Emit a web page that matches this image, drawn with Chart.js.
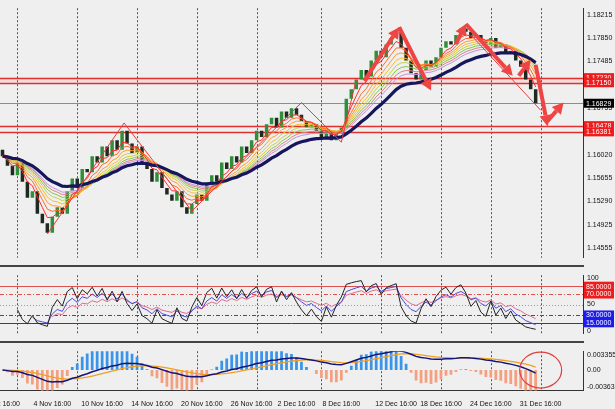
<!DOCTYPE html>
<html><head><meta charset="utf-8">
<script src="https://cdn.jsdelivr.net/npm/chart.js@4"></script>
<style>
body{margin:0;background:#efefef;width:615px;height:409px;overflow:hidden;position:relative}
canvas{position:absolute;left:0}
.sep{position:absolute;left:0;width:584px;height:2px;background:#444}
</style></head><body>
<canvas id="c1" width="615" height="266" style="top:0"></canvas>
<div class="sep" style="top:265px"></div>
<canvas id="c2" width="615" height="75" style="top:267px"></canvas>
<div class="sep" style="top:341px"></div>
<canvas id="c3" width="615" height="66" style="top:343px"></canvas>
<script>
// ---------- data ----------
const closes = [1.1600,1.1585,1.1570,1.1590,1.1560,1.1535,1.1545,1.1510,1.1495,1.1480,
1.1505,1.1520,1.1510,1.1545,1.1565,1.1550,1.1580,1.1575,1.1600,1.1590,1.1615,1.1600,1.1625,1.1610,1.1640,
1.1620,1.1605,1.1615,1.1590,1.1580,1.1560,1.1575,1.1550,1.1540,1.1530,1.1545,1.1520,1.1510,1.1525,
1.1540,1.1530,1.1555,1.1570,1.1560,1.1590,1.1580,1.1600,1.1590,1.1615,1.1605,1.1625,1.1640,1.1630,1.1650,1.1660,1.1645,1.1670,1.1660,1.1675,1.1665,1.1655,
1.1645,1.1650,1.1640,1.1630,1.1640,1.1625,1.1635,1.1645,
1.1690,1.1705,1.1720,
1.1735,1.1725,1.1750,1.1765,1.1755,1.1775,1.1785,1.1795,
1.1770,1.1750,1.1730,1.1720,1.1735,
1.1750,1.1740,1.1755,1.1770,
1.1780,1.1775,1.1790,1.1800,1.1795,
1.1785,1.1790,1.1780,1.1775,1.1785,1.1770,1.1775,
1.1760,1.1765,1.1750,1.1740,1.1720,1.1705,1.1683];
const futureSlots = 9;
const xLabelIdx = [1,10,20,30,40,50,59,68,79,88,98,108];
const xLabelTxt = ['ct 16:00','4 Nov 16:00','10 Nov 16:00','14 Nov 16:00','20 Nov 16:00','26 Nov 16:00','2 Dec 16:00','8 Dec 16:00','12 Dec 16:00','18 Dec 16:00','24 Dec 16:00','31 Dec 16:00'];
const gridIdx = [3,15,27,39,51,64,76,88,98,108];
const priceTicks = [1.18215,1.17850,1.17485,1.16755,1.16020,1.15655,1.15290,1.14925,1.14555];
const redLevels = [1.17230,1.17150,1.16478,1.16381];
const currentPrice = 1.16829;
const rsiTicks = [100,50,0];
const macdTicks = [0.0033551,0,-0.003636];
const macdTickTxt = ['0.0033551','0.00','-0.003636'];
const ribbonPeriods = [4,6,8,10,12,14,16,18];
const ribbonColors = ['#ff2a2a','#ff6a2a','#ff9a30','#f0c030','#c8d040','#80c850','#e08080','#c090e0'];
const navyPeriod = 24;
const rsiPeriods = [3,6,10];
const rsiColors = ['#222','#4a4ad8','#e06a8a'];
const zigzag = [[9,1.1478],[24.4,1.1652],[38,1.1514],[60,1.1684],[68,1.1622],[71,1.1720]];
const thinLine = [[94,1.1790],[108,1.1672]];
const arrows = [[72.6,1.1718,79.6,1.1802],[79.6,1.1802,86,1.1703],[91,1.1776,93,1.1807],[93,1.1807,102.4,1.1726],[103.6,1.1726,106,1.1751],[107,1.1743,109.4,1.1647],[109.4,1.1655,112.6,1.1684]];

// ---------- derived ----------
const N = closes.length + futureSlots;
const labels = Array.from({length:N},(_, i)=>i);
const pad = a => a.concat(Array(futureSlots).fill(null));
const opens = closes.map((c,i)=> i? closes[i-1] : c+0.0010);
function ema(arr,p){const k=2/(p+1);let out=[],e=arr[0];arr.forEach((v,i)=>{e=i?v*k+e*(1-k):v;out.push(e)});return out;}
function rsi(arr,p){let out=[],g=0,l=0;for(let i=0;i<arr.length;i++){if(i===0){out.push(null);continue;}const d=arr[i]-arr[i-1];const up=Math.max(d,0),dn=Math.max(-d,0);if(i<=p){g+=up/p;l+=dn/p;out.push(i===p?100-100/(1+g/(l||1e-9)):null);}else{g=(g*(p-1)+up)/p;l=(l*(p-1)+dn)/p;out.push(100-100/(1+g/(l||1e-9)));}}return out;}
const e12=ema(closes,12), e26=ema(closes,26);
const macd=closes.map((c,i)=>e12[i]-e26[i]);
const sig=ema(macd,9);
const hist=macd.map((m,i)=>(m-sig[i])*5);

// ---------- shared ----------
Chart.defaults.font.family='Liberation Sans';Chart.defaults.font.size=7;Chart.defaults.color='#111';
Chart.defaults.animation=false;
const fit = s=>{s.width=32};
const xHidden={display:false,offset:true,grid:{display:false}};
const gridPlugin={id:'vg',beforeDatasetsDraw(ch){const {ctx,chartArea:a,scales:{x}}=ch;ctx.save();ctx.strokeStyle='#555';ctx.lineWidth=1;ctx.setLineDash([2,2]);gridIdx.forEach(i=>{const px=Math.round(x.getPixelForValue(i))+0.5;ctx.beginPath();ctx.moveTo(px,a.top);ctx.lineTo(px,a.bottom);ctx.stroke();});ctx.restore();}};
function levelPlugin(levels){return {id:'lv',beforeDatasetsDraw(ch){const {ctx,chartArea:a,scales:{y}}=ch;ctx.save();levels.forEach(L=>{const py=Math.round(y.getPixelForValue(L.v))+0.5;ctx.strokeStyle=L.c;ctx.lineWidth=L.w;ctx.setLineDash(L.d||[]);ctx.beginPath();ctx.moveTo(a.left,py);ctx.lineTo(a.right,py);ctx.stroke();});ctx.restore();}};}
function badgePlugin(badges){return {id:'bd',afterDraw(ch){const {ctx,chartArea:a,scales:{y}}=ch;ctx.save();ctx.font='7px Liberation Sans';ctx.textBaseline='middle';badges.forEach(B=>{const py=y.getPixelForValue(B.v);ctx.fillStyle=B.bg;ctx.fillRect(a.right+1,py-4.5,30,9);ctx.fillStyle=B.fg;ctx.fillText(B.t,a.right+3,py+0.5);});ctx.restore();}};}
function yAxis(min,max,ticks,fmt){return {position:'right',min,max,afterFit:fit,grid:{display:false,drawTicks:false},border:{display:true,color:'#333'},
 afterBuildTicks:s=>{s.ticks=ticks.map(v=>({value:v}))},ticks:{padding:4,callback:fmt}};}

// ---------- main pane ----------
const ds=[{type:'bar',data:pad(closes.map((c,i)=>[opens[i],c])),backgroundColor:pad(closes.map((c,i)=>c>=opens[i]?'#2f8f3a':'#1e2a20')),barPercentage:0.7,categoryPercentage:1,order:3}];
ribbonPeriods.forEach((p,k)=>ds.push({type:'line',data:pad(ema(closes,p)),borderColor:ribbonColors[k],borderWidth:1,pointRadius:0,order:2}));
ds.push({type:'line',data:pad(ema(closes,navyPeriod)),borderColor:'#16165c',borderWidth:3.2,pointRadius:0,order:1});
const annotPlugin={id:'an',afterDatasetsDraw(ch){const {ctx,scales:{x,y}}=ch;ctx.save();
 ctx.strokeStyle='#e83a3a';ctx.lineWidth=1;ctx.beginPath();zigzag.forEach((p,i)=>{const X=x.getPixelForValue(p[0]),Y=y.getPixelForValue(p[1]);i?ctx.lineTo(X,Y):ctx.moveTo(X,Y)});ctx.stroke();
 ctx.beginPath();thinLine.forEach((p,i)=>{const X=x.getPixelForValue(p[0]),Y=y.getPixelForValue(p[1]);i?ctx.lineTo(X,Y):ctx.moveTo(X,Y)});ctx.stroke();
 ctx.fillStyle='#ee4444';ctx.strokeStyle='#ee4444';
 arrows.forEach(A=>{const x1=x.getPixelForValue(A[0]),y1=y.getPixelForValue(A[1]),x2=x.getPixelForValue(A[2]),y2=y.getPixelForValue(A[3]);const ang=Math.atan2(y2-y1,x2-x1);const h=11;
  const bx=x2-h*Math.cos(ang),by=y2-h*Math.sin(ang);ctx.lineWidth=4;ctx.beginPath();ctx.moveTo(x1,y1);ctx.lineTo(bx,by);ctx.stroke();
  ctx.beginPath();ctx.moveTo(x2,y2);ctx.lineTo(bx+6*Math.sin(ang),by-6*Math.cos(ang));ctx.lineTo(bx-6*Math.sin(ang),by+6*Math.cos(ang));ctx.closePath();ctx.fill();});
 ctx.restore();}};
const bandPlugin={id:'band',beforeDatasetsDraw(ch){const {ctx,chartArea:a,scales:{y}}=ch;ctx.save();ctx.fillStyle='rgba(255,200,200,0.45)';const t=y.getPixelForValue(redLevels[0]),b=y.getPixelForValue(redLevels[1]);ctx.fillRect(a.left,t,a.right-a.left,b-t);ctx.restore();}};
new Chart('c1',{data:{labels,datasets:ds},options:{responsive:false,plugins:{legend:{display:false},tooltip:{enabled:false}},layout:{padding:0},
 scales:{x:xHidden,y:yAxis(1.14408,1.18318,priceTicks,v=>v.toFixed(5))}},
 plugins:[bandPlugin,gridPlugin,levelPlugin(redLevels.map(v=>({v,c:'#e03030',w:1.3})).concat([{v:currentPrice,c:'#5a6ae0',w:0.8}])),annotPlugin,
  badgePlugin(redLevels.map(v=>({v,t:v.toFixed(5),bg:'#ee1c1c',fg:'#fff'})).concat([{v:currentPrice,t:currentPrice.toFixed(5),bg:'#000',fg:'#fff'}]))]});

// ---------- RSI pane ----------
new Chart('c2',{data:{labels,datasets:rsiPeriods.map((p,k)=>({type:'line',data:pad(rsi(closes,p)),borderColor:rsiColors[k],borderWidth:1,pointRadius:0,spanGaps:false}))},
 options:{responsive:false,plugins:{legend:{display:false},tooltip:{enabled:false}},layout:{padding:0},scales:{x:xHidden,y:yAxis(-6,106,rsiTicks,v=>String(v))}},
 plugins:[gridPlugin,levelPlugin([{v:85,c:'#e05050',w:1},{v:70,c:'#e05050',w:1,d:[4,2,1,2]},{v:50,c:'#d08080',w:1,d:[1,2]},{v:30,c:'#4040c0',w:1,d:[4,2,1,2]},{v:15,c:'#3030d0',w:1}]),
  badgePlugin([{v:85,t:'85.0000',bg:'#ee1c1c',fg:'#fff'},{v:70,t:'70.0000',bg:'#ee1c1c',fg:'#fff'},{v:30,t:'30.0000',bg:'#1c1cee',fg:'#fff'},{v:15,t:'15.0000',bg:'#1c1cee',fg:'#fff'}])]});

// ---------- MACD pane ----------
const circlePlugin={id:'ci',afterDatasetsDraw(ch){const {ctx,scales:{x,y}}=ch;ctx.save();ctx.strokeStyle='#e04040';ctx.lineWidth=1.2;ctx.beginPath();ctx.ellipse(x.getPixelForValue(108),y.getPixelForValue(0),21,18,0,0,Math.PI*2);ctx.stroke();ctx.restore();}};
new Chart('c3',{data:{labels,datasets:[
 {type:'bar',data:pad(hist),backgroundColor:pad(hist.map(h=>h>=0?'#3a94e8':'#f4a080')),barPercentage:0.55,categoryPercentage:1,order:3},
 {type:'line',data:pad(sig),borderColor:'#f0a020',borderWidth:1.3,pointRadius:0,order:2},
 {type:'line',data:pad(macd),borderColor:'#14147a',borderWidth:1.5,pointRadius:0,order:1}]},
 options:{responsive:false,plugins:{legend:{display:false},tooltip:{enabled:false}},layout:{padding:0},
 scales:{x:{offset:true,grid:{display:false},border:{display:true,color:'#333'},ticks:{autoSkip:false,maxRotation:0,padding:1,callback:(v,i)=>{const k=xLabelIdx.indexOf(i);return k>=0?xLabelTxt[k]:''}}},
  y:yAxis(-0.00448,0.00412,macdTicks,v=>macdTickTxt[macdTicks.indexOf(v)]??'')}},
 plugins:[gridPlugin,circlePlugin]});
</script></body></html>
